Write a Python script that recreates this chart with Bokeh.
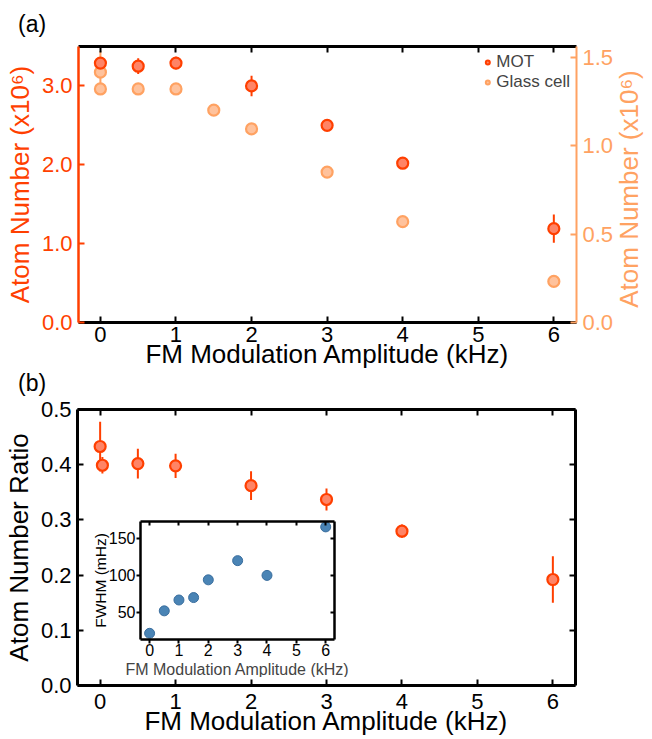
from bokeh.plotting import figure
from bokeh.models import (Range1d, LinearAxis, FixedTicker, PrintfTickFormatter,
                          Legend, LegendItem, ColumnDataSource, Title, Div)
from bokeh.embed import file_html
from bokeh.resources import INLINE

# ---------------- data ----------------
mot_x = [0, 0.5, 1, 2, 3, 4, 6]
mot_y = [3.29, 3.25, 3.29, 3.00, 2.50, 2.02, 1.19]
mot_err = [0.05, 0.10, 0.08, 0.13, 0.05, 0.04, 0.18]

glass_x = [0, 0, 0.5, 1, 1.5, 2, 3, 4, 6]
glass_y = [1.415, 1.32, 1.32, 1.32, 1.20, 1.094, 0.85, 0.57, 0.232]
glass_err = [0.12, 0.02, 0.03, 0.03, 0.015, 0.02, 0.01, 0.01, 0.01]

ratio_x = [0, 0.03, 0.5, 1, 2, 3, 4, 6]
ratio_y = [0.433, 0.399, 0.402, 0.398, 0.362, 0.337, 0.2795, 0.192]
ratio_err = [0.045, 0.015, 0.027, 0.022, 0.026, 0.02, 0.012, 0.042]

fwhm_x = [0, 0.5, 1, 1.5, 2, 3, 4, 6]
fwhm_y = [21.6, 52, 66.7, 70, 94, 120, 100, 165.7]

x_ticks = [0, 1, 2, 3, 4, 5, 6]
mot_ticks = [0, 1, 2, 3]
glass_ticks = [0, 0.5, 1.0, 1.5]
ratio_ticks = [0, 0.1, 0.2, 0.3, 0.4, 0.5]
fwhm_ticks = [50, 100, 150]

FONT = "Liberation Sans"
RED = "#FF3F00"
RED_FILL = "#FF8466"
ORANGE = "#FFA262"
ORANGE_FILL = "#FFC29C"
BLUE = "#4A84B5"
BLUE_EDGE = "#3A6E9E"

LBL = "26px"
TICK = "22px"


def style_axis(ax, color="black", width=3, labels=True, tick_in=6, tick_out=0,
               font_size=TICK):
    ax.axis_line_color = color
    ax.axis_line_width = width
    ax.major_tick_line_color = color
    ax.major_tick_line_width = 2
    ax.major_tick_in = tick_in
    ax.major_tick_out = tick_out
    ax.minor_tick_line_color = None
    ax.major_label_text_font = FONT
    ax.axis_label_text_font = FONT
    ax.axis_label_text_font_style = "normal"
    ax.major_label_text_color = color
    ax.axis_label_text_color = color
    if labels:
        ax.major_label_text_font_size = font_size
    else:
        ax.major_label_text_font_size = "0px"
        ax.major_label_text_color = None
        ax.major_label_standoff = 0


# ---------------- top panel ----------------
p1 = figure(width=644, height=380, output_backend="svg", toolbar_location=None,
            x_range=Range1d(-0.29, 6.3), y_range=Range1d(0, 3.5),
            min_border_left=78, min_border_right=68, min_border_top=46,
            min_border_bottom=58, x_axis_location=None, y_axis_location=None)
p1.outline_line_color = None
p1.grid.visible = False
p1.border_fill_alpha = 0
p1.background_fill_alpha = 0
p1.extra_y_ranges = {"glass": Range1d(0, 1.56)}

xb = LinearAxis(ticker=FixedTicker(ticks=x_ticks), axis_label="FM Modulation Amplitude (kHz)")
style_axis(xb)
xb.axis_label_text_font_size = LBL
xb.axis_label_standoff = -6
xb.major_label_standoff = 4
p1.add_layout(xb, "below")
xt = LinearAxis(ticker=FixedTicker(ticks=x_ticks))
style_axis(xt, labels=False)
p1.add_layout(xt, "above")

yl = LinearAxis(ticker=FixedTicker(ticks=mot_ticks), axis_label="Atom Number (x10⁶)",
                formatter=PrintfTickFormatter(format="%.1f"))
style_axis(yl, color=RED, width=2.5)
yl.axis_label_text_font_size = LBL
yl.axis_label_standoff = 4
yl.major_label_standoff = 6
p1.add_layout(yl, "left")
yr = LinearAxis(y_range_name="glass", ticker=FixedTicker(ticks=glass_ticks),
                formatter=PrintfTickFormatter(format="%.1f"))
style_axis(yr, color=ORANGE, width=2)
yr.major_label_standoff = 6
p1.add_layout(yr, "right")

mot = ColumnDataSource(dict(x=mot_x, y=mot_y,
                            lo=[a - b for a, b in zip(mot_y, mot_err)],
                            hi=[a + b for a, b in zip(mot_y, mot_err)]))
gls = ColumnDataSource(dict(x=glass_x, y=glass_y,
                            lo=[a - b for a, b in zip(glass_y, glass_err)],
                            hi=[min(a + b, 1.56) for a, b in zip(glass_y, glass_err)]))

p1.segment(x0="x", y0="lo", x1="x", y1="hi", source=gls, line_color=ORANGE,
           line_width=2, y_range_name="glass")
p1.scatter("x", "y", source=gls, size=11, fill_color=ORANGE_FILL,
           line_color=ORANGE, line_width=2.2, y_range_name="glass")
p1.segment(x0="x", y0="lo", x1="x", y1="hi", source=mot, line_color=RED, line_width=2)
p1.scatter("x", "y", source=mot, size=11, fill_color=RED_FILL,
           line_color=RED, line_width=2.2)

# legend-only renderers (small dots, outside the visible range)
lm = p1.scatter([-10], [-10], size=7, fill_color=RED_FILL, line_color=RED, line_width=2)
lg = p1.scatter([-10], [-10], size=7, fill_color=ORANGE_FILL, line_color=ORANGE, line_width=2)
leg = Legend(items=[LegendItem(label="MOT", renderers=[lm]),
                    LegendItem(label="Glass cell", renderers=[lg])],
             location="top_right", border_line_color=None, background_fill_alpha=0,
             label_text_font=FONT, label_text_font_size="17px", glyph_width=10,
             glyph_height=18, label_standoff=4, spacing=0, padding=4, margin=6,
             label_height=18)
p1.add_layout(leg)

# ---------------- bottom panel ----------------
p2 = figure(width=644, height=373, output_backend="svg", toolbar_location=None,
            x_range=Range1d(-0.3, 6.3), y_range=Range1d(0, 0.5),
            min_border_left=77, min_border_right=69, min_border_top=43,
            min_border_bottom=54, x_axis_location=None, y_axis_location=None)
p2.outline_line_color = None
p2.grid.visible = False
p2.border_fill_alpha = 0
p2.background_fill_alpha = 0

xb2 = LinearAxis(ticker=FixedTicker(ticks=x_ticks), axis_label="FM Modulation Amplitude (kHz)")
style_axis(xb2)
xb2.axis_label_text_font_size = LBL
xb2.axis_label_standoff = -6
xb2.major_label_standoff = 8
p2.add_layout(xb2, "below")
xt2 = LinearAxis(ticker=FixedTicker(ticks=x_ticks))
style_axis(xt2, labels=False)
p2.add_layout(xt2, "above")
yl2 = LinearAxis(ticker=FixedTicker(ticks=ratio_ticks), axis_label="Atom Number Ratio",
                 formatter=PrintfTickFormatter(format="%.1f"))
style_axis(yl2)
yl2.axis_label_text_font_size = LBL
yl2.axis_label_standoff = 4
yl2.major_label_standoff = 6
p2.add_layout(yl2, "left")
yr2 = LinearAxis(ticker=FixedTicker(ticks=ratio_ticks))
style_axis(yr2, labels=False)
p2.add_layout(yr2, "right")

rat = ColumnDataSource(dict(x=ratio_x, y=ratio_y,
                            lo=[a - b for a, b in zip(ratio_y, ratio_err)],
                            hi=[a + b for a, b in zip(ratio_y, ratio_err)]))
p2.segment(x0="x", y0="lo", x1="x", y1="hi", source=rat, line_color=RED, line_width=2)
p2.scatter("x", "y", source=rat, size=11, fill_color=RED_FILL, line_color=RED, line_width=2.2)

# ---------------- inset ----------------
p3 = figure(width=268, height=162, output_backend="svg", toolbar_location=None,
            x_range=Range1d(-0.31, 6.3), y_range=Range1d(13.2, 173),
            min_border_left=48, min_border_right=22, min_border_top=6,
            min_border_bottom=36, x_axis_location=None, y_axis_location=None)
p3.outline_line_color = None
p3.grid.visible = False
p3.background_fill_alpha = 0
p3.border_fill_alpha = 0

ix = LinearAxis(ticker=FixedTicker(ticks=x_ticks))
style_axis(ix, width=2.5, tick_in=0, tick_out=4, font_size="16px")
ix.major_label_standoff = 0
p3.add_layout(ix, "below")
ixl = Title(text="FM Modulation Amplitude (kHz)", align="center", text_font=FONT,
            text_font_size="16px", text_font_style="normal", standoff=0)
p3.add_layout(ixl, "below")
ixt = LinearAxis(ticker=FixedTicker(ticks=x_ticks))
style_axis(ixt, width=2.5, labels=False, tick_in=4)
p3.add_layout(ixt, "above")
iy = LinearAxis(ticker=FixedTicker(ticks=fwhm_ticks), axis_label="FWHM (mHz)")
style_axis(iy, width=2.5, tick_in=0, tick_out=4, font_size="16px")
iy.axis_label_text_font_size = "15.5px"
iy.axis_label_standoff = -3
iy.major_label_standoff = 1
p3.add_layout(iy, "left")
iyr = LinearAxis(ticker=FixedTicker(ticks=fwhm_ticks))
style_axis(iyr, width=2.5, labels=False, tick_in=4)
p3.add_layout(iyr, "right")

p3.scatter(fwhm_x, fwhm_y, size=10, fill_color=BLUE, line_color=BLUE_EDGE, line_width=1)

# panel letters and right-hand axis title
txt_css = {"font-family": FONT, "font-size": "23px", "color": "black",
           "line-height": "normal", "position": "absolute"}
div_a = Div(text="(a)", styles=dict(txt_css, left="13px", top="6px"))
div_b = Div(text="(b)", styles=dict(txt_css, left="13px", top="365px"))
div_r = Div(text="Atom Number (x10⁶)", width=270, height=30,
            styles={"font-family": FONT, "font-size": "26px", "color": ORANGE,
                    "line-height": "30px", "text-align": "center",
                    "position": "absolute", "left": "489px", "top": "169px",
                    "transform": "rotate(-90deg)", "white-space": "nowrap"})

# independent roots placed on the page (no layout, so no border alignment)
p1.styles = {"position": "absolute", "left": "0px", "top": "0px"}
p2.styles = {"position": "absolute", "left": "0px", "top": "366px"}
p3.styles = {"position": "absolute", "left": "88px", "top": "515px"}

open("out.html", "w").write(file_html([p1, p2, p3, div_a, div_b, div_r], INLINE))
